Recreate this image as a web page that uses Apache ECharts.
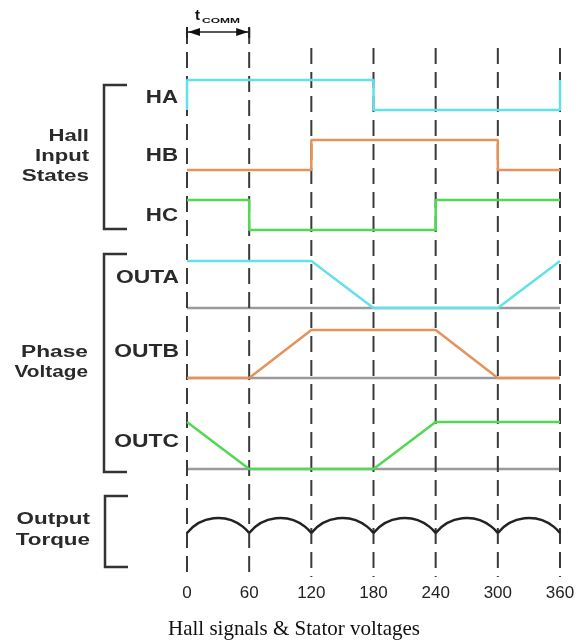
<!DOCTYPE html>
<html><head><meta charset="utf-8">
<script src="https://cdn.jsdelivr.net/npm/echarts@6/dist/echarts.min.js"></script>
<style>html,body{margin:0;padding:0;background:#fff}#c{width:588px;height:644px}</style>
</head><body><div id="c"></div>
<script>
// ---------------- data ----------------
const angleTicks = [0, 60, 120, 180, 240, 300, 360];
const tickLabels = ['0', '60', '120', '180', '240', '300', '360'];
// [electrical angle, logic level]
const haPoints = [[0, 0], [0, 1], [180, 1], [180, 0], [360, 0], [360, 1]];
const hbPoints = [[0, 0], [120, 0], [120, 1], [300, 1], [300, 0], [360, 0]];
const hcPoints = [[0, 1], [60, 1], [60, 0], [240, 0], [240, 1], [360, 1]];
// [electrical angle, normalised phase voltage]
const outaPoints = [[0, 1], [120, 1], [180, 0], [300, 0], [360, 1]];
const outbPoints = [[0, 0], [60, 0], [120, 1], [240, 1], [300, 0], [360, 0]];
const outcPoints = [[0, 1], [60, 0], [180, 0], [240, 1], [360, 1]];
const zeroLine = [[0, 0], [360, 0]];
// torque ripple: one arc per commutation interval
const torqueSegments = [[0, 60], [60, 120], [120, 180], [180, 240], [240, 300], [300, 360]];
const commInterval = [[0, 60]];

// ---------------- layout ----------------
const lanes = {
  HA: { base: 110, amp: 30 }, HB: { base: 170, amp: 30 }, HC: { base: 230, amp: 30 },
  OUTA: { base: 308, amp: 47 }, OUTB: { base: 378, amp: 48 }, OUTC: { base: 469, amp: 47 },
  TQ: { base: 533, amp: 15 }
};
const guideTop = [28, 28, 48, 48, 48, 48, 48];
const guideBottom = 577;
const commY = 32;
const C = { cyan: '#62e2e8', orange: '#e6925a', green: '#52d852', gray: '#9a9a9a', dash: '#3a3a3a', ink: '#2a2a2a' };

const toLane = (pts, lane) => pts.map(p => [p[0], lane.base - p[1] * lane.amp]);
const lineSeries = (pts, lane, color, z) => ({
  type: 'line', data: toLane(pts, lane), symbol: 'none', showSymbol: false, silent: true,
  clip: false, z: z, lineStyle: { color: color, width: 2.5 }, animation: false
});

const labelFont = 'bold 16px "Liberation Sans", Arial, sans-serif';
const sigFont = 'bold 18px "Liberation Sans", Arial, sans-serif';
function txt(t, x, y, font, sx) {
  return { type: 'text', x: x, y: y, scaleX: sx, silent: true,
    style: { text: t, font: font, fill: C.ink, align: 'right', verticalAlign: 'middle',
      textAlign: 'right', textVerticalAlign: 'middle' } };
}
function bracket(x, y0, y1, x2) {
  return { type: 'polyline', silent: true,
    shape: { points: [[x2, y0], [x, y0], [x, y1], [x2, y1]] },
    style: { stroke: '#333', lineWidth: 2.5, fill: null } };
}

const chart = echarts.init(document.getElementById('c'), null, { renderer: 'canvas' });
chart.setOption({
  animation: false,
  backgroundColor: '#fff',
  title: {
    text: 'Hall signals & Stator voltages', left: 'center', top: 614,
    textStyle: { fontFamily: '"Liberation Serif", "Times New Roman", serif', fontSize: 21, fontWeight: 'normal', color: '#111' }
  },
  grid: { left: 187, right: 28, top: 0, bottom: 644 - guideBottom, containLabel: false, outerBoundsMode: 'none' },
  xAxis: {
    type: 'value', min: 0, max: 360, interval: 60,
    axisLine: { show: false }, axisTick: { show: false }, splitLine: { show: false },
    axisLabel: {
      fontSize: 17, color: '#222', fontFamily: '"Liberation Sans", Arial, sans-serif', margin: 8,
      showMinLabel: true, showMaxLabel: true,
      formatter: v => tickLabels[angleTicks.indexOf(v)]
    }
  },
  yAxis: { type: 'value', min: 0, max: guideBottom, inverse: true, show: false },
  series: [
    lineSeries(zeroLine, lanes.OUTA, C.gray, 1),
    lineSeries(zeroLine, lanes.OUTB, C.gray, 1),
    lineSeries(zeroLine, lanes.OUTC, C.gray, 1),
    lineSeries(haPoints, lanes.HA, C.cyan, 6),
    lineSeries(hbPoints, lanes.HB, C.orange, 6),
    lineSeries(hcPoints, lanes.HC, C.green, 6),
    lineSeries(outaPoints, lanes.OUTA, C.cyan, 6),
    lineSeries(outbPoints, lanes.OUTB, C.orange, 6),
    lineSeries(outcPoints, lanes.OUTC, C.green, 6),
    {
      type: 'custom', z: 6, clip: false, silent: true,
      data: torqueSegments,
      renderItem: function (params, api) {
        const a0 = api.value(0), a1 = api.value(1);
        const p0 = api.coord([a0, lanes.TQ.base]);
        const p1 = api.coord([a1, lanes.TQ.base]);
        const pt = api.coord([(a0 + a1) / 2, lanes.TQ.base - lanes.TQ.amp]);
        const w = (p1[0] - p0[0]) / 2, s = p0[1] - pt[1];
        const r = (w * w + s * s) / (2 * s);
        const cx = pt[0], cy = pt[1] + r;
        return {
          type: 'arc',
          shape: { cx: cx, cy: cy, r: r,
            startAngle: Math.atan2(p0[1] - cy, p0[0] - cx),
            endAngle: Math.atan2(p1[1] - cy, p1[0] - cx), clockwise: true },
          style: { stroke: '#222', fill: null, lineWidth: 2.5 }
        };
      }
    },
    {
      type: 'custom', z: 4, clip: false, silent: true,
      data: angleTicks.map((a, i) => [a, guideTop[i]]),
      renderItem: function (params, api) {
        const p0 = api.coord([api.value(0), api.value(1)]);
        const p1 = api.coord([api.value(0), guideBottom]);
        return {
          type: 'line', shape: { x1: p0[0], y1: p0[1], x2: p1[0], y2: p1[1] },
          style: { stroke: C.dash, lineWidth: 2, lineDash: [16, 8] }
        };
      }
    },
    {
      type: 'custom', z: 7, clip: false, silent: true,
      data: commInterval,
      renderItem: function (params, api) {
        const pa = api.coord([api.value(0), commY]);
        const pb = api.coord([api.value(1), commY]);
        const y = pa[1];
        return {
          type: 'group', children: [
            { type: 'line', shape: { x1: pa[0], y1: y, x2: pb[0], y2: y }, style: { stroke: '#222', lineWidth: 1.5 } },
            { type: 'line', shape: { x1: pa[0], y1: y - 5, x2: pa[0], y2: y + 6 }, style: { stroke: '#222', lineWidth: 2 } },
            { type: 'line', shape: { x1: pb[0], y1: y - 5, x2: pb[0], y2: y + 6 }, style: { stroke: '#222', lineWidth: 2 } },
            { type: 'polygon', shape: { points: [[pa[0] + 1, y], [pa[0] + 13, y - 4], [pa[0] + 13, y + 4]] }, style: { fill: '#111' } },
            { type: 'polygon', shape: { points: [[pb[0] - 1, y], [pb[0] - 13, y - 4], [pb[0] - 13, y + 4]] }, style: { fill: '#111' } },
            { type: 'text', x: pa[0] + 8, y: y - 9, style: { text: 't', font: 'bold 15px "Liberation Sans", Arial, sans-serif', fill: '#111', align: 'left', verticalAlign: 'bottom', textAlign: 'left', textVerticalAlign: 'bottom' } },
            { type: 'text', x: pa[0] + 15, y: y - 7, scaleX: 1.5, style: { text: 'COMM', font: 'bold 8px "Liberation Sans", Arial, sans-serif', fill: '#111', align: 'left', verticalAlign: 'bottom', textAlign: 'left', textVerticalAlign: 'bottom' } }
          ]
        };
      }
    }
  ],
  graphic: [
    bracket(104, 85, 229, 127),
    bracket(104, 254, 472, 127),
    bracket(105, 496, 567, 128),
    txt('Hall', 89, 137, labelFont, 1.38),
    txt('Input', 89, 157, labelFont, 1.38),
    txt('States', 89, 177, labelFont, 1.4),
    txt('HA', 178, 98, sigFont, 1.24),
    txt('HB', 178, 156, sigFont, 1.24),
    txt('HC', 178, 216, sigFont, 1.24),
    txt('OUTA', 179, 278, sigFont, 1.27),
    txt('OUTB', 179, 352, sigFont, 1.27),
    txt('OUTC', 179, 442, sigFont, 1.27),
    txt('Phase', 88, 353, labelFont, 1.42),
    txt('Voltage', 88, 373, labelFont, 1.3),
    txt('Output', 90, 520, labelFont, 1.4),
    txt('Torque', 90, 541, labelFont, 1.4)
  ]
});
</script>
</body></html>
